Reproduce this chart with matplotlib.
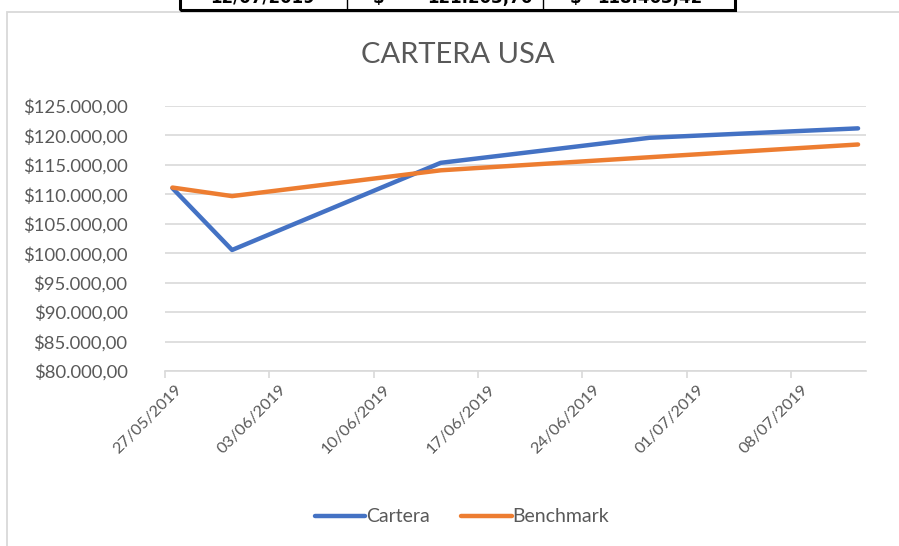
import matplotlib
matplotlib.use("Agg")
import matplotlib.pyplot as plt
import matplotlib.dates as mdates
import matplotlib.transforms as mtransforms
import pandas as pd
from matplotlib.lines import Line2D
from matplotlib.patches import Rectangle
from matplotlib.ticker import FuncFormatter, MultipleLocator

# --- data ---
dates = pd.to_datetime(["2019-05-27", "2019-05-31", "2019-06-14", "2019-06-28", "2019-07-12"])
cartera = [111050, 100550, 115350, 119600, 121203.76]
benchmark = [111150, 109700, 114080, 116300, 118463.42]
tick_dates = pd.date_range("2019-05-27", "2019-07-08", freq="7D")
table_row = ["12/07/2019", "121.203,76", "118.463,42"]

BLUE = "#4472C4"
ORANGE = "#ED7D31"
GRID = "#D9D9D9"
TEXT = "#595959"

plt.rcParams["font.family"] = ["Lato", "DejaVu Sans"]

W, H = 899, 546
fig = plt.figure(figsize=(W / 100, H / 100), dpi=100)


def fx(px):
    return px / W


def fy(py):
    return 1 - py / H


# chart frame (Excel chart area border, runs off right and bottom)
fig.patches.append(Rectangle((fx(7), -0.1), 1.2, fy(12) + 0.1, transform=fig.transFigure,
                             fill=False, edgecolor=GRID, linewidth=1.3))

# cut-off table row above the chart
fig.patches.append(Rectangle((fx(180), fy(10)), fx(735 - 180), 0.2, transform=fig.transFigure,
                             fill=False, edgecolor="black", linewidth=2.2))
for xd in (347, 543):
    fig.add_artist(Line2D([fx(xd), fx(xd)], [fy(10), 1.1], transform=fig.transFigure,
                          color="black", linewidth=1.0))
tkw = dict(transform=fig.transFigure, fontsize=12, fontweight="bold", color="black",
           va="baseline", family="DejaVu Sans")
fig.text(fx(263), fy(3), table_row[0], ha="center", **tkw)
fig.text(fx(373), fy(3), "$", ha="left", **tkw)
fig.text(fx(532), fy(3), table_row[1], ha="right", **tkw)
fig.text(fx(570), fy(3), "$", ha="left", **tkw)
fig.text(fx(702), fy(3), table_row[2], ha="right", **tkw)

ax = fig.add_axes([fx(165), fy(371), fx(865.5 - 165), fy(106) - fy(371)])

# Excel puts each point in the middle of its day on a date axis
xs = dates + pd.Timedelta(hours=12)
ax.plot(xs, cartera, color=BLUE, linewidth=3.2, solid_capstyle="round", label="Cartera", zorder=3)
ax.plot(xs, benchmark, color=ORANGE, linewidth=3.2, solid_capstyle="round", label="Benchmark", zorder=3)

ax.set_xlim(pd.Timestamp("2019-05-27"), pd.Timestamp("2019-07-13"))
ax.set_ylim(80000, 125000)
ax.yaxis.set_major_locator(MultipleLocator(5000))
ax.yaxis.set_major_formatter(FuncFormatter(
    lambda v, _: "$" + f"{v:,.2f}".replace(",", "X").replace(".", ",").replace("X", ".")))
ax.set_xticks(tick_dates)
ax.xaxis.set_major_formatter(mdates.DateFormatter("%d/%m/%Y"))

ax.grid(axis="y", color=GRID, linewidth=1.2)
ax.set_axisbelow(True)
for side in ("top", "right", "left"):
    ax.spines[side].set_visible(False)
ax.spines["bottom"].set_color(GRID)
ax.spines["bottom"].set_linewidth(1.2)

ax.tick_params(axis="y", length=0, pad=27, labelsize=13.3, labelcolor=TEXT)
ax.tick_params(axis="x", length=5, width=1.2, color=GRID, direction="out", labelsize=11.8,
               labelcolor=TEXT, pad=3)
shift = mtransforms.ScaledTranslation(10 / 100, 0, fig.dpi_scale_trans)
for lbl in ax.get_xticklabels():
    lbl.set_rotation(45)
    lbl.set_ha("right")
    lbl.set_rotation_mode("anchor")
    lbl.set_transform(lbl.get_transform() + shift)

fig.text(fx(458), fy(55), "CARTERA USA", ha="center", va="center", fontsize=21, color=TEXT)

fig.legend(loc="center", bbox_to_anchor=(fx(462), fy(517)), ncol=2, frameon=False,
           fontsize=14, labelcolor=TEXT, handlelength=2.6, handletextpad=0.05,
           columnspacing=1.6)

fig.savefig("out.png", dpi=100)
